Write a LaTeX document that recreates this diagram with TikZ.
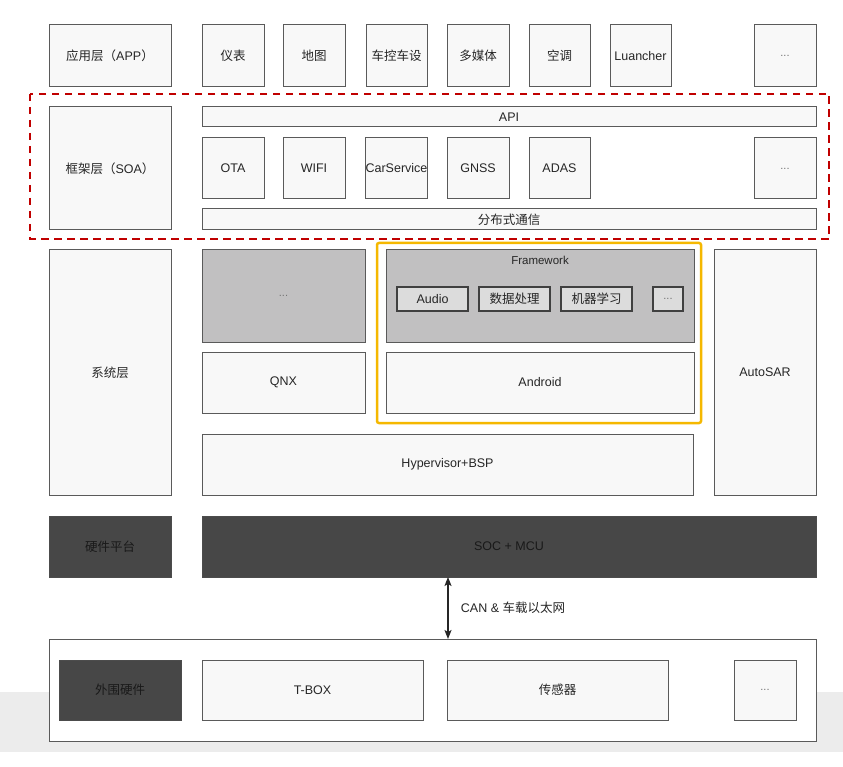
\documentclass[tikz,border=0pt]{standalone}
\usepackage{fontspec}
\setmainfont{Liberation Sans}
\newfontfamily\cjk{Noto Sans CJK SC}
\newcommand{\zh}[1]{{\cjk #1}}
\usetikzlibrary{arrows.meta}
\definecolor{bd}{HTML}{5A5A5A}
\definecolor{lf}{HTML}{F8F8F8}
\definecolor{gf}{HTML}{C1C0C1}
\definecolor{bf}{HTML}{DCDCDC}
\definecolor{df}{HTML}{474747}
\definecolor{redd}{HTML}{C00000}
\definecolor{yel}{HTML}{F5B800}
\definecolor{band}{HTML}{ECECEC}
\tikzset{
  box/.style={draw=bd, fill=lf, line width=1pt, inner sep=0pt, outer sep=0pt, font=\fontsize{12.5}{14}\selectfont, text=black!85},
  whitebox/.style={box, fill=white},
  graybox/.style={box, fill=gf},
  btn/.style={box, fill=bf, draw=black!75, line width=1.3pt},
  darkbox/.style={box, fill=df, draw=black!70, text=black!90},
  link/.style={line width=1.2pt, draw=black!85, >={Stealth[length=9pt,width=7pt,inset=2pt]}, <->},
}
\newcommand{\dd}{\textcolor{black!55}{\fontsize{11}{12}\selectfont ...}}
\newcommand{\bx}[7]{\node[#6, minimum width={(#4-#2)*1pt}, minimum height={(#5-#3)*1pt}] (#1) at ({(#2+#4)/2},{-(#3+#5)/2}) {#7};}
\begin{document}
\begin{tikzpicture}[x=1pt,y=1pt]
\path[use as bounding box, fill=white] (0,0) rectangle (843,-767);
\fill[band] (0,-692) rectangle (843,-752);
% top row
\bx{app}{49}{25}{171}{87}{box}{\zh{应用层（}APP\zh{）}}
\bx{yb}{202}{25}{264}{87}{box}{\zh{仪表}}
\bx{dt}{283}{25}{345}{87}{box}{\zh{地图}}
\bx{ck}{366}{25}{427}{87}{box}{\zh{车控车设}}
\bx{dmt}{447}{25}{509}{87}{box}{\zh{多媒体}}
\bx{kt}{529}{25}{590}{87}{box}{\zh{空调}}
\bx{lu}{610}{25}{671}{87}{box}{Luancher}
\bx{appd}{754}{25}{816}{87}{box}{\dd}
% SOA
\bx{soa}{49}{107}{171}{230}{box}{\zh{框架层（}SOA\zh{）}}
\bx{api}{202}{107}{816}{127}{box}{API}
\bx{ota}{202}{138}{264}{199}{box}{OTA}
\bx{wifi}{283}{138}{345}{199}{box}{WIFI}
\bx{cs}{366}{138}{427}{199}{box}{CarService}
\bx{gnss}{447}{138}{509}{199}{box}{GNSS}
\bx{adas}{529}{138}{590}{199}{box}{ADAS}
\bx{soad}{754}{138}{816}{199}{box}{\dd}
\bx{dist}{202}{209}{816}{230}{box}{\zh{分布式通信}}
\draw[redd, line width=2.5pt, dash pattern=on 7.5pt off 5.5pt] (30,-94) rectangle (829,-239);
% system layer
\bx{sys}{49}{250}{171}{495}{box}{\zh{系统层}}
\bx{sysd}{202}{250}{365}{342}{graybox}{\dd}
\bx{qnx}{202}{352}{365}{413}{box}{QNX}
\bx{fw}{386}{250}{694}{342}{graybox}{}
\node[font=\fontsize{11.5}{13}\selectfont, text=black!85] (fwt) at (540,-260) {Framework};
\bx{audio}{397}{287}{468}{311}{btn}{Audio}
\bx{sjcl}{479}{287}{550}{311}{btn}{\zh{数据处理}}
\bx{jqxx}{561}{287}{632}{311}{btn}{\zh{机器学习}}
\bx{fwd}{653}{287}{683}{311}{btn}{\dd}
\bx{andr}{386}{352}{694}{413}{box}{Android}
\draw[yel, line width=2.5pt, rounded corners=2pt] (377,-243) rectangle (701,-423);
\bx{auto}{714}{250}{816}{495}{box}{AutoSAR}
\bx{hyp}{202}{434}{693}{495}{box}{Hypervisor+BSP}
% hardware
\bx{hw}{49}{516}{171}{577}{darkbox}{\zh{硬件平台}}
\bx{soc}{202}{516}{816}{577}{darkbox}{SOC + MCU}
\bx{per}{49}{639}{816}{741}{whitebox}{}
\bx{wwyj}{59}{660}{181}{720}{darkbox}{\zh{外围硬件}}
\bx{tbox}{202}{660}{423}{720}{box}{T-BOX}
\bx{cgq}{447}{660}{668}{720}{box}{\zh{传感器}}
\bx{perd}{734}{660}{796}{720}{box}{\dd}
\coordinate (ax) at (448,0);
\draw[link] (soc.south -| ax) -- (per.north -| ax) node[midway, right=9pt, font=\fontsize{12.5}{14}\selectfont, text=black!85] (can) {CAN \& \zh{车载以太网}};
\end{tikzpicture}
\end{document}
